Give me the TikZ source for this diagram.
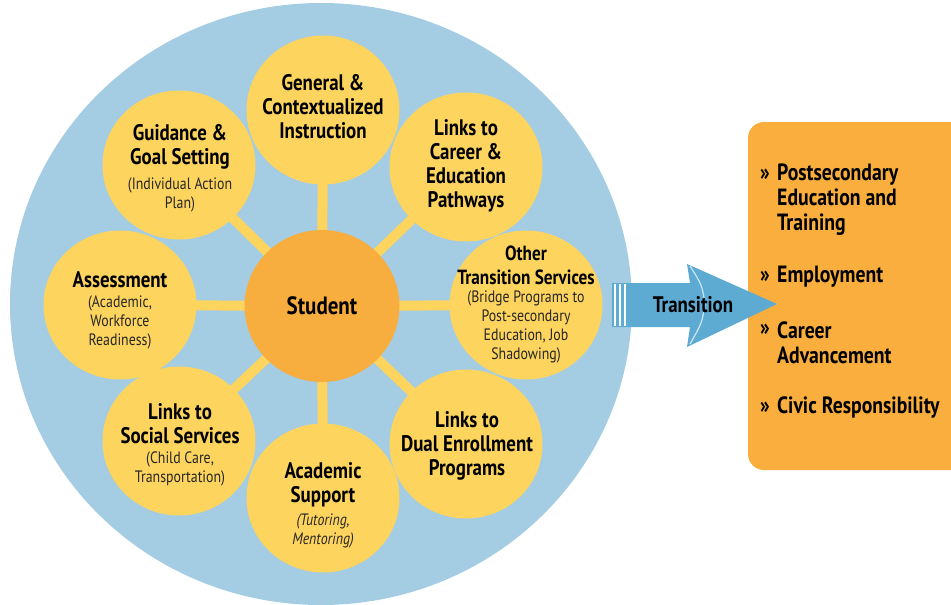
\documentclass[tikz,border=0pt]{standalone}
\usepackage{fontspec}
\setmainfont{PT Sans}
\newfontfamily\cond[FakeStretch=0.84]{PT Sans}
\usetikzlibrary{shapes.geometric}
\definecolor{bgblue}{HTML}{A4CDE3}
\definecolor{ylw}{HTML}{FDD45E}
\definecolor{stuor}{HTML}{F8AE3E}
\definecolor{boxor}{HTML}{F9AE3E}
\definecolor{arrblue}{HTML}{5DAAD3}
\newcommand{\ttlf}{\cond\bfseries\fontsize{22.5}{24}\selectfont}
\newcommand{\ttls}{\cond\bfseries\fontsize{20.5}{24}\selectfont}
\newcommand{\stuf}{\cond\bfseries\fontsize{25}{26}\selectfont}
\newcommand{\subf}{\cond\fontsize{16.5}{19}\selectfont}
\newcommand{\subi}{\cond\itshape\fontsize{16.5}{19}\selectfont}
\newcommand{\boxf}{\cond\bfseries\fontsize{23.5}{25}\selectfont}
\tikzset{
  bubble/.style={ellipse, fill=ylw, inner sep=0, minimum width=153, minimum height=149},
  spoke/.style={draw=ylw, line width=10},
  ttl/.style={font=\ttlf, align=center, inner sep=0, text=black},
  subt/.style={font=\subf, align=center, inner sep=0, text=black!85},
  subit/.style={font=\subi, align=center, inner sep=0, text=black!85},
  itemtxt/.style={font=\boxf, align=left, anchor=west, inner sep=0},
  chev/.style={font=\boxf, anchor=west, inner sep=0},
}
\begin{document}
\begin{tikzpicture}[x=1pt,y=-1pt]
\useasboundingbox (0,0) rectangle (951,605);
% background disc
\node[ellipse, fill=bgblue, inner sep=0, minimum width=622, minimum height=602] (disc) at (321,304) {};
% centres
\coordinate (cS) at (322,306);
\coordinate (cGen) at (323,110);
\coordinate (cCar) at (466,167);
\coordinate (cOth) at (526,305);
\coordinate (cDual) at (466,444);
\coordinate (cAcad) at (323,498);
\coordinate (cSoc) at (179,441);
\coordinate (cAss) at (120,305);
\coordinate (cGuid) at (179,165);
% spokes
\foreach \c in {cGen,cCar,cOth,cDual,cAcad,cSoc,cAss,cGuid}
  \draw[spoke] (cS) -- (\c);
% bubbles
\node[bubble] (gen) at (cGen) {};
\node[bubble] (car) at (cCar) {};
\node[bubble] (oth) at (cOth) {};
\node[bubble] (dual) at (cDual) {};
\node[bubble] (acad) at (cAcad) {};
\node[bubble] (soc) at (cSoc) {};
\node[bubble] (ass) at (cAss) {};
\node[bubble] (guid) at (cGuid) {};
\node[ellipse, fill=stuor, inner sep=0, minimum width=155, minimum height=152, font=\stuf] (stu) at (cS) {Student};
% texts
\node[ttl] (tGen) at (323,107) {General \&\\Contextualized\\Instruction};
\node[ttl] (tCar) at (466,166) {Links to\\Career \&\\Education\\Pathways};
\node[ttl] (tGuid) at (180,147) {Guidance \&\\Goal Setting};
\node[subt] (sGuid) at (180,195) {(Individual Action\\Plan)};
\node[ttl] (tAss) at (120,280) {Assessment};
\node[subt] (sAss) at (120,322) {(Academic,\\Workforce\\Readiness)};
\node[ttl, font=\ttls] (tOth) at (526,265) {Other\\Transition Services};
\node[subt] (sOth) at (526,327) {(Bridge Programs to\\Post-secondary\\Education, Job\\Shadowing)};
\node[ttl] (tSoc) at (180,424) {Links to\\Social Services};
\node[subt] (sSoc) at (180,469) {(Child Care,\\Transportation)};
\node[ttl] (tAcad) at (323,485) {Academic\\Support};
\node[subit] (sAcad) at (323,531) {(Tutoring,\\Mentoring)};
\node[ttl] (tDual) at (467,446) {Links to\\Dual Enrollment\\Programs};
% outcome box
\fill[boxor, rounded corners=16] (748,122) rectangle (975,470);
\node[inner sep=0] (box) at (849,296) {};
\node[chev] (c1) at (760,175) {»};
\node[itemtxt] (i1) at (777,200) {Postsecondary\\Education and\\Training};
\node[chev] (c2) at (760,277) {»};
\node[itemtxt] (i2) at (777,277) {Employment};
\node[chev] (c3) at (760,330) {»};
\node[itemtxt] (i3) at (777,342.5) {Career\\Advancement};
\node[chev] (c4) at (760,408) {»};
\node[itemtxt] (i4) at (777,408) {Civic Responsibility};
% transition arrow
\fill[arrblue] (612,283) -- (690,283) -- (687,264) -- (777,304) -- (687,347) -- (690,327) -- (612,327) -- cycle;
\foreach \xx in {615,620,625} \draw[white, line width=1.3] (\xx,284) -- (\xx,326);
\draw[white!70!arrblue, line width=1.2] (690,266) .. controls (702,285) .. (705,304) .. controls (702,323) .. (690,344);
\node[font=\ttlf, inner sep=0] (trans) at (693,305) {Transition};
\end{tikzpicture}
\end{document}
